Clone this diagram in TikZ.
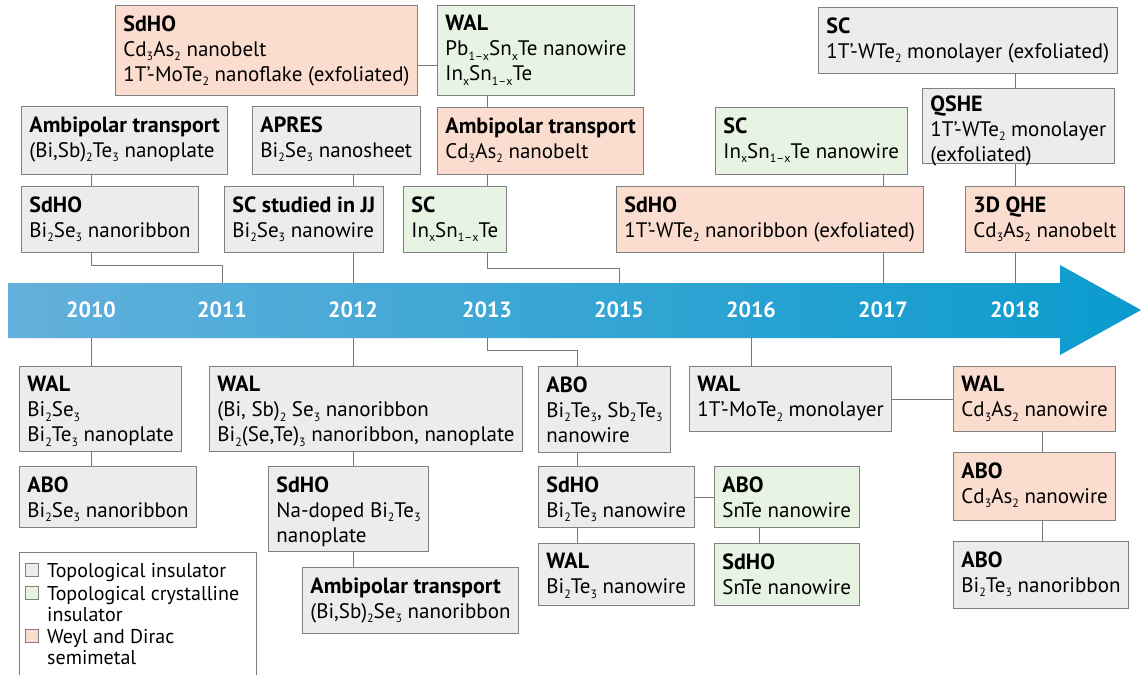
\documentclass[tikz,border=0pt]{standalone}
\usepackage{fontspec}
\setmainfont{PT Sans}
\usetikzlibrary{calc}
\definecolor{tifill}{HTML}{ECECEA}
\definecolor{tcifill}{HTML}{E7F4E4}
\definecolor{wdsfill}{HTML}{FBDDD0}
\definecolor{boxline}{HTML}{808080}
\definecolor{connline}{HTML}{777777}
\definecolor{arrowL}{HTML}{64B0DC}
\definecolor{arrowR}{HTML}{0A9BCD}
\newcommand\sub[1]{\raisebox{-4.5pt}{\fontsize{12}{12}\selectfont #1}}
\newcommand\tit[1]{{\bfseries\fontsize{22}{25}\selectfont #1}}
\newcommand\bl[1]{\hbox{#1}}
\newcommand\bc[4][10]{\parbox[c][#3pt][t]{\dimexpr#2pt-16pt\relax}{\vspace*{#1pt}#4}}
\tikzset{
  tbox/.style={draw=boxline, line width=0.9pt, anchor=north west, inner xsep=8pt, inner ysep=0pt,
    font=\fontsize{21}{25}\selectfont},
  ti/.style={tbox, fill=tifill},
  tci/.style={tbox, fill=tcifill},
  wds/.style={tbox, fill=wdsfill},
  conn/.style={draw=connline, line width=0.9pt},
  yearlbl/.style={text=white, inner sep=0pt, font=\bfseries\fontsize{22}{22}\selectfont},
  lsq/.style={draw=boxline, line width=0.6pt, minimum size=13pt, inner sep=0pt},
  ltext/.style={anchor=base west, inner sep=0pt, font=\fontsize{20}{22}\selectfont},
}
\begin{document}
\begin{tikzpicture}[x=1pt, y=-1pt]
\useasboundingbox[fill=white] (0,0) rectangle (1142,674);

% timeline arrow
\shade[left color=arrowL, right color=arrowR] (8,283) -- (1060,283) -- (1060,265) -- (1141,310)
  -- (1060,355) -- (1060,338) -- (8,338) -- cycle;
\coordinate (bandT) at (0,283);
\coordinate (bandB) at (0,338);
\node[yearlbl] (y2010) at (91,310) {2010};
\node[yearlbl] (y2011) at (222,310) {2011};
\node[yearlbl] (y2012) at (353,310) {2012};
\node[yearlbl] (y2013) at (487,310) {2013};
\node[yearlbl] (y2015) at (619,310) {2015};
\node[yearlbl] (y2016) at (751,310) {2016};
\node[yearlbl] (y2017) at (883,310) {2017};
\node[yearlbl] (y2018) at (1015,310) {2018};

% ---------- upper boxes ----------
\node[wds] (sdho1) at (115,5) {\bc{311}{90}{\bl{\tit{SdHO}}\bl{Cd\sub3As\sub2 nanobelt}\bl{1T'-MoTe\sub2 nanoflake (exfoliated)}}};
\node[tci] (wal1) at (437,5) {\bc{200}{90}{\bl{\tit{WAL}}\bl{Pb\sub{1--x}Sn\sub{x}Te nanowire}\bl{In\sub{x}Sn\sub{1--x}Te}}};
\node[ti] (sc4) at (818,7) {\bc{313}{66}{\bl{\tit{SC}}\bl{1T'-WTe\sub2 monolayer (exfoliated)}}};
\node[ti] (amb1) at (21,106) {\bc{216}{68}{\bl{\tit{Ambipolar transport}}\bl{(Bi,Sb)\sub2Te\sub3 nanoplate}}};
\node[ti] (apres) at (252,106) {\bc{174}{68}{\bl{\tit{APRES}}\bl{Bi\sub2Se\sub3 nanosheet}}};
\node[wds] (amb2) at (437,107) {\bc{218}{67}{\bl{\tit{Ambipolar transport}}\bl{Cd\sub3As\sub2 nanobelt}}};
\node[tci] (sc3) at (715,107) {\bc{185}{67}{\bl{\tit{SC}}\bl{In\sub{x}Sn\sub{1--x}Te nanowire}}};
\node[ti] (qshe) at (922,88) {\bc[7]{209}{75}{\bl{\tit{QSHE}}\bl{1T'-WTe\sub2 monolayer}\bl{(exfoliated)}}};
\node[ti] (msdho) at (21,186) {\bc{188}{66}{\bl{\tit{SdHO}}\bl{Bi\sub2Se\sub3 nanoribbon}}};
\node[ti] (mscjj) at (224,186) {\bc{166}{66}{\bl{\tit{SC studied in JJ}}\bl{Bi\sub2Se\sub3 nanowire}}};
\node[tci] (msc) at (403,186) {\bc{200}{66}{\bl{\tit{SC}}\bl{In\sub{x}Sn\sub{1--x}Te}}};
\node[wds] (msdho2) at (616,186) {\bc{312}{66}{\bl{\tit{SdHO}}\bl{1T'-WTe\sub2 nanoribbon (exfoliated)}}};
\node[wds] (mqhe) at (965,186) {\bc{166}{66}{\bl{\tit{3D QHE}}\bl{Cd\sub3As\sub2 nanobelt}}};

% ---------- lower boxes ----------
\node[ti] (bwal1) at (19,366) {\bc{167}{85}{\bl{\tit{WAL}}\bl{Bi\sub2Se\sub3}\bl{Bi\sub2Te\sub3 nanoplate}}};
\node[ti] (babo1) at (19,466) {\bc{182}{61}{\bl{\tit{ABO}}\bl{Bi\sub2Se\sub3 nanoribbon}}};
\node[ti] (bwal2) at (209,366) {\bc{320}{85}{\bl{\tit{WAL}}\bl{(Bi, Sb)\sub2 Se\sub3 nanoribbon}\bl{Bi\sub2(Se,Te)\sub3 nanoribbon, nanoplate}}};
\node[ti] (bsdho) at (268,466) {\bc{261}{85}{\bl{\tit{SdHO}}\bl{Na-doped Bi\sub2Te\sub3}\bl{nanoplate}}};
\node[ti] (bamb) at (302,567) {\bc{227}{66}{\bl{\tit{Ambipolar transport}}\bl{(Bi,Sb)\sub2Se\sub3 nanoribbon}}};
\node[ti] (babo2) at (538,366) {\bc{141}{86}{\bl{\tit{ABO}}\bl{Bi\sub2Te\sub3, Sb\sub2Te\sub3}\bl{nanowire}}};
\node[ti] (bsdho2) at (538,466) {\bc{160}{61}{\bl{\tit{SdHO}}\bl{Bi\sub2Te\sub3 nanowire}}};
\node[ti] (bwal3) at (538,543) {\bc{161}{62}{\bl{\tit{WAL}}\bl{Bi\sub2Te\sub3 nanowire}}};
\node[tci] (babo3) at (714,466) {\bc{151}{61}{\bl{\tit{ABO}}\bl{SnTe nanowire}}};
\node[tci] (bsdho3) at (714,543) {\bc{151}{62}{\bl{\tit{SdHO}}\bl{SnTe nanowire}}};
\node[ti] (bwal4) at (689,366) {\bc{257}{65}{\bl{\tit{WAL}}\bl{1T'-MoTe\sub2 monolayer}}};
\node[wds] (bwal5) at (953,366) {\bc{179}{65}{\bl{\tit{WAL}}\bl{Cd\sub3As\sub2 nanowire}}};
\node[wds] (babo4) at (953,452) {\bc{179}{68}{\bl{\tit{ABO}}\bl{Cd\sub3As\sub2 nanowire}}};
\node[ti] (babo5) at (953,541) {\bc{179}{67}{\bl{\tit{ABO}}\bl{Bi\sub2Te\sub3 nanoribbon}}};

% ---------- legend ----------
\node[draw=boxline, line width=0.9pt, anchor=north west, minimum width=237pt, minimum height=126pt, inner sep=0pt] (legend) at (19,552) {};
\node[lsq, fill=tifill] (lq1) at (32,570) {};
\node[ltext] (lt1) at (47,577) {Topological insulator};
\node[lsq, fill=tcifill] (lq2) at (32,593) {};
\node[ltext] (lt2) at (47,600) {Topological crystalline};
\node[ltext] (lt2b) at (47,621) {insulator};
\node[lsq, fill=wdsfill] (lq3) at (32,636) {};
\node[ltext] (lt3) at (47,643) {Weyl and Dirac};
\node[ltext] (lt3b) at (47,664) {semimetal};

% ---------- connectors ----------
\coordinate (h1) at (0,65);
\coordinate (x13) at (577,0);
\coordinate (xsn) at (759,0);
\coordinate (xcd) at (1042,0);
\draw[conn] (h1 -| sdho1.east) -- (h1 -| wal1.west);
\draw[conn] (wal1.south -| y2013) -- (amb2.north -| y2013);
\draw[conn] (amb2.south -| y2013) -- (msc.north -| y2013);
\draw[conn] (msc.south -| y2013) -- ++(0,16) -| (y2015 |- bandT);
\draw[conn] (amb1.south -| y2010) -- (msdho.north -| y2010);
\draw[conn] (msdho.south -| y2010) -- ++(0,13) -| (y2011 |- bandT);
\draw[conn] (apres.south -| y2012) -- (mscjj.north -| y2012);
\draw[conn] (mscjj.south -| y2012) -- (y2012 |- bandT);
\draw[conn] (sc3.south -| y2017) -- (msdho2.north -| y2017);
\draw[conn] (msdho2.south -| y2017) -- (y2017 |- bandT);
\draw[conn] (sc4.south -| y2018) -- (qshe.north -| y2018);
\draw[conn] (qshe.south -| y2018) -- (mqhe.north -| y2018);
\draw[conn] (mqhe.south -| y2018) -- (y2018 |- bandT);

\draw[conn] (y2010 |- bandB) -- (y2010 |- bwal1.north);
\draw[conn] (bwal1.south -| y2010) -- (babo1.north -| y2010);
\draw[conn] (y2012 |- bandB) -- (y2012 |- bwal2.north);
\draw[conn] (bwal2.south -| y2012) -- (bsdho.north -| y2012);
\draw[conn] (bsdho.south -| y2012) -- (bamb.north -| y2012);
\draw[conn] (y2013 |- bandB) -- ++(0,12) -| (x13 |- babo2.north);
\draw[conn] (babo2.south -| x13) -- (bsdho2.north -| x13);
\draw[conn] (bsdho2.south -| x13) -- (bwal3.north -| x13);
\draw[conn] (bsdho2.east) -- (babo3.west);
\draw[conn] (babo3.south -| xsn) -- (bsdho3.north -| xsn);
\draw[conn] (y2016 |- bandB) -- (y2016 |- bwal4.north);
\draw[conn] (bwal4.east) -- (bwal5.west);
\draw[conn] (bwal5.south -| xcd) -- (babo4.north -| xcd);
\draw[conn] (babo4.south -| xcd) -- (babo5.north -| xcd);
\end{tikzpicture}
\end{document}
